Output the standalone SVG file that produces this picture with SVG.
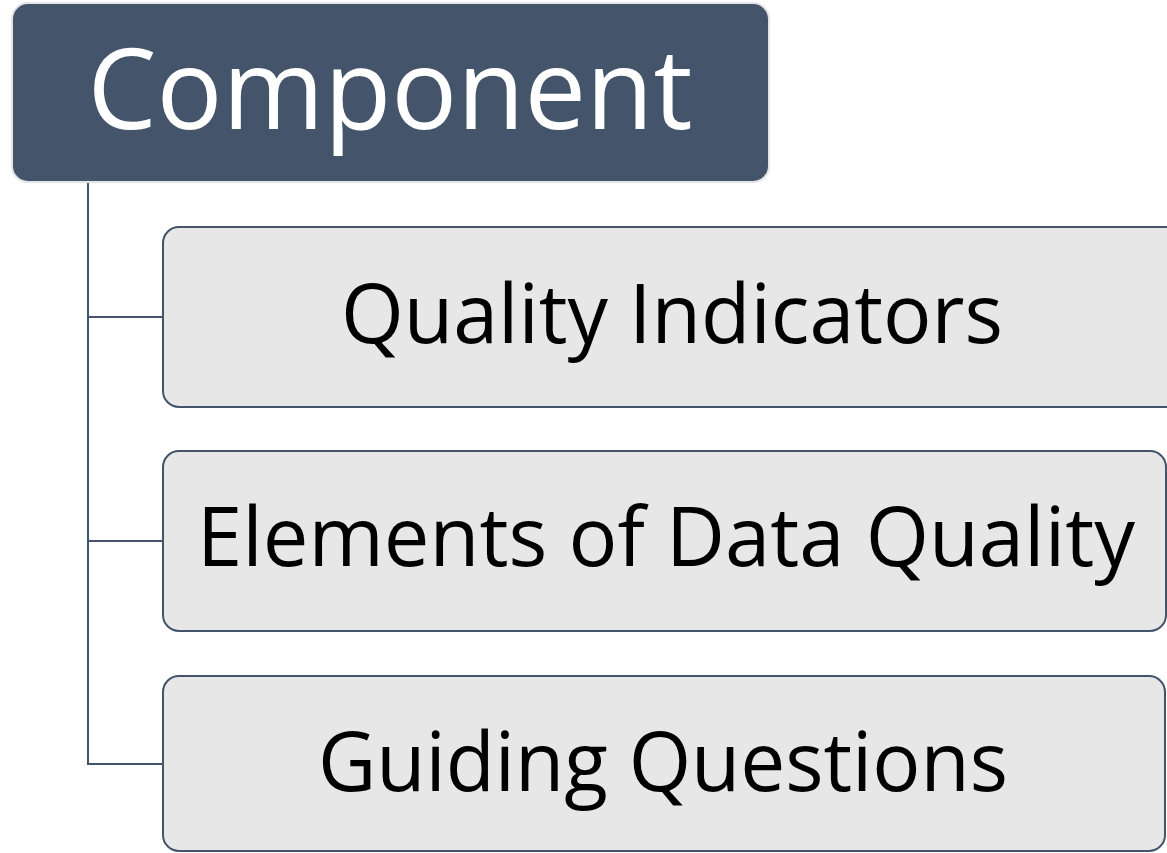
<svg xmlns="http://www.w3.org/2000/svg" width="1167" height="853" viewBox="0 0 1167 853">
<style>
.root{fill:#44546a;stroke:#e4e4e4;stroke-width:2}
.child{fill:#e7e7e7;stroke:#44546a;stroke-width:2}
.conn{fill:none;stroke:#44546a;stroke-width:2}
.t{font-family:"Open Sans","Liberation Sans",sans-serif;text-anchor:middle}
.rt{fill:#ffffff;font-size:112px}
.ct{fill:#000000;font-size:83px}
</style>
<rect width="1167" height="853" fill="#ffffff"/>
<g id="connectors">
<path class="conn" d="M88,182 V764 H163"/>
<path class="conn" d="M88,317 H163"/>
<path class="conn" d="M88,541 H163"/>
</g>
<g id="component">
<rect class="root" x="12" y="3" width="757" height="179" rx="16"/>
<text class="t rt" x="390" y="129" textLength="605" lengthAdjust="spacingAndGlyphs">Component</text>
</g>
<g id="quality-indicators">
<rect class="child" x="163" y="227" width="1020" height="180" rx="16"/>
<text class="t ct" x="672" y="343" textLength="662" lengthAdjust="spacingAndGlyphs">Quality Indicators</text>
</g>
<g id="elements">
<rect class="child" x="163" y="451" width="1003" height="180" rx="16"/>
<text class="t ct" x="666" y="566" textLength="938" lengthAdjust="spacingAndGlyphs">Elements of Data Quality</text>
</g>
<g id="guiding-questions">
<rect class="child" x="163" y="676" width="1002" height="175" rx="16"/>
<text class="t ct" x="663" y="791" textLength="690" lengthAdjust="spacingAndGlyphs">Guiding Questions</text>
</g>
</svg>
